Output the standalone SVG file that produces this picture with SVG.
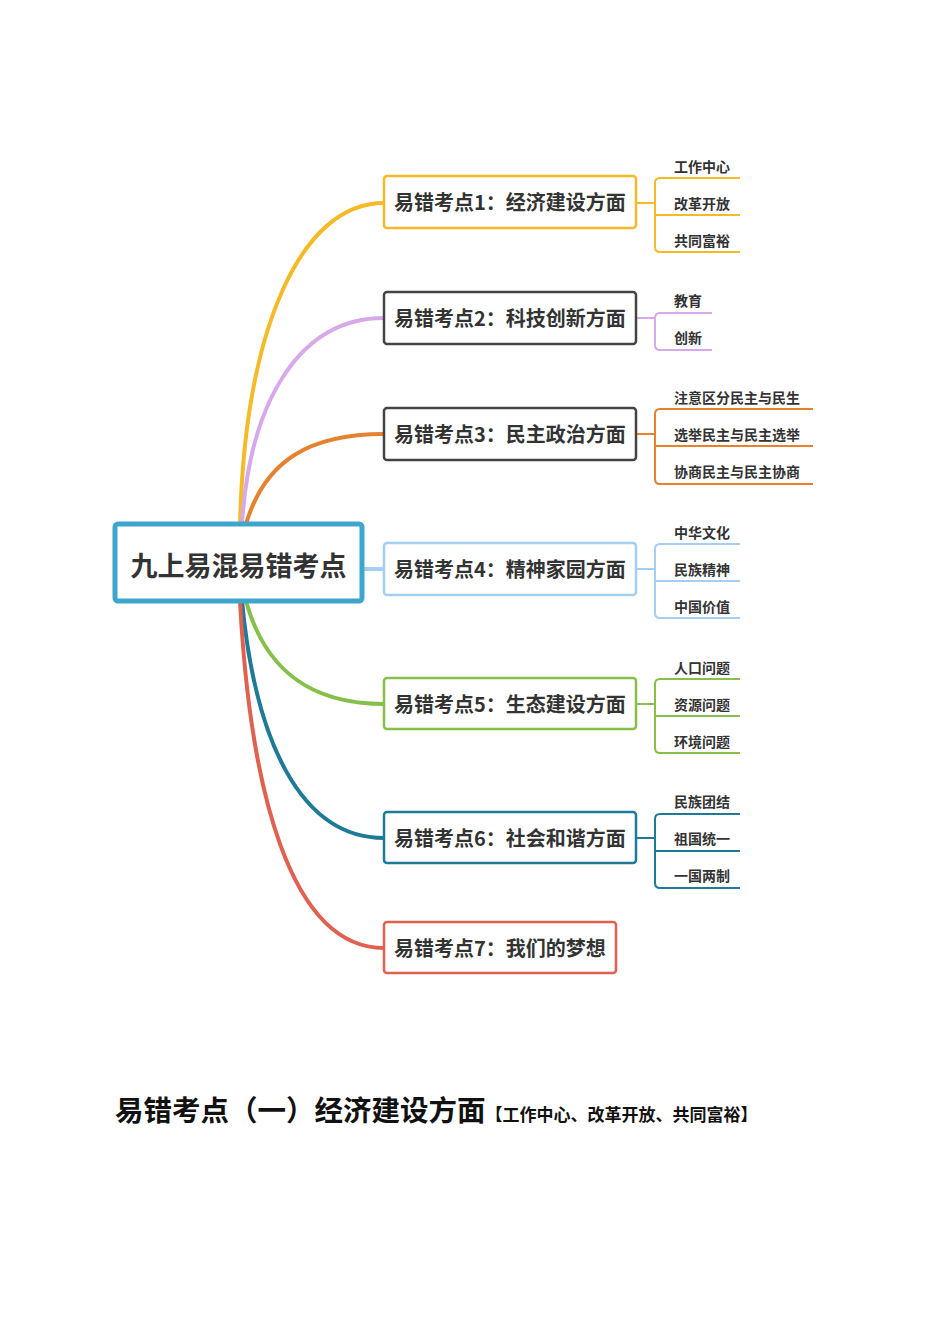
<svg xmlns="http://www.w3.org/2000/svg" width="950" height="1344" viewBox="0 0 950 1344">
<style>
text{font-family:"Noto Sans CJK SC","Liberation Sans",sans-serif;font-weight:bold;fill:#333}
.b{fill:#fff;stroke-width:2.5}
.t{font-size:20px}
.l{font-size:14px}
.c{fill:none;stroke-width:4}
.k{fill:none;stroke-width:2}
</style>
<rect width="950" height="1344" fill="#fff"/>
<g id="connectors">
<path class="c" stroke="#f6b928" d="M240 524 C245 330 300 203 384 203"/>
<path class="c" stroke="#d7a8ea" d="M242 524 C250 400 300 318 384 318"/>
<path class="c" stroke="#e5822f" d="M246 524 C265 460 310 434 384 434"/>
<path class="c" stroke="#a4cff5" d="M362 569 L384 569"/>
<path class="c" stroke="#86c04a" d="M246 601 C265 670 310 704 384 704"/>
<path class="c" stroke="#1e7a96" d="M242 601 C255 740 300 838 384 838"/>
<path class="c" stroke="#e0614f" d="M240 601 C250 790 290 948 384 948"/>
<g stroke="#f6b928" class="k"><path d="M636 203 H655 M740 178 H660 Q655 178 655 183 V247 Q655 252 660 252 H740 M655 215 H740"/></g>
<g stroke="#d7a8ea" class="k"><path d="M636 318 H655 M712 313 H660 Q655 313 655 318 V345 Q655 350 660 350 H712"/></g>
<g stroke="#e5822f" class="k"><path d="M636 434 H655 M813 409 H660 Q655 409 655 414 V479 Q655 484 660 484 H813 M655 446 H813"/></g>
<g stroke="#a4cff5" class="k"><path d="M636 569 H655 M740 544 H660 Q655 544 655 549 V613 Q655 618 660 618 H740 M655 581 H740"/></g>
<g stroke="#86c04a" class="k"><path d="M636 704 H655 M740 679 H660 Q655 679 655 684 V748 Q655 753 660 753 H740 M655 716 H740"/></g>
<g stroke="#1e7a96" class="k"><path d="M636 838 H655 M740 814 H660 Q655 814 655 819 V883 Q655 888 660 888 H740 M655 851 H740"/></g>
</g>
<g id="root"><rect x="115" y="524" width="247" height="77" rx="3" fill="#fff" stroke="#3ea6cd" stroke-width="5"/><text x="238.5" y="576" font-size="27" text-anchor="middle">九上易混易错考点</text></g>
<g id="n1"><rect class="b" x="384" y="176" width="252" height="52" rx="3" stroke="#f6b928"/><text class="t" x="394" y="210">易错考点1：经济建设方面</text></g>
<g id="n2"><rect class="b" x="384" y="292" width="252" height="52" rx="3" stroke="#444"/><text class="t" x="394" y="326">易错考点2：科技创新方面</text></g>
<g id="n3"><rect class="b" x="384" y="408" width="252" height="52" rx="3" stroke="#444"/><text class="t" x="394" y="442">易错考点3：民主政治方面</text></g>
<g id="n4"><rect class="b" x="384" y="543" width="252" height="52" rx="3" stroke="#a4cff5"/><text class="t" x="394" y="577">易错考点4：精神家园方面</text></g>
<g id="n5"><rect class="b" x="384" y="678" width="252" height="51" rx="3" stroke="#86c04a"/><text class="t" x="394" y="712">易错考点5：生态建设方面</text></g>
<g id="n6"><rect class="b" x="384" y="812" width="252" height="51" rx="3" stroke="#1e7a96"/><text class="t" x="394" y="846">易错考点6：社会和谐方面</text></g>
<g id="n7"><rect class="b" x="384" y="922" width="232" height="51" rx="3" stroke="#e0614f"/><text class="t" x="394" y="956">易错考点7：我们的梦想</text></g>
<g id="leaves" class="l">
<text class="l" x="674" y="172">工作中心</text><text class="l" x="674" y="209">改革开放</text><text class="l" x="674" y="246">共同富裕</text>
<text class="l" x="674" y="306">教育</text><text class="l" x="674" y="343">创新</text>
<text class="l" x="674" y="403">注意区分民主与民生</text><text class="l" x="674" y="440">选举民主与民主选举</text><text class="l" x="674" y="477">协商民主与民主协商</text>
<text class="l" x="674" y="538">中华文化</text><text class="l" x="674" y="575">民族精神</text><text class="l" x="674" y="612">中国价值</text>
<text class="l" x="674" y="673">人口问题</text><text class="l" x="674" y="710">资源问题</text><text class="l" x="674" y="747">环境问题</text>
<text class="l" x="674" y="807">民族团结</text><text class="l" x="674" y="844">祖国统一</text><text class="l" x="674" y="881">一国两制</text>
</g>
<text x="115" y="1121" font-size="28.5" style="fill:#111">易错考点（一）经济建设方面<tspan font-size="17">【工作中心、改革开放、共同富裕】</tspan></text>
</svg>
